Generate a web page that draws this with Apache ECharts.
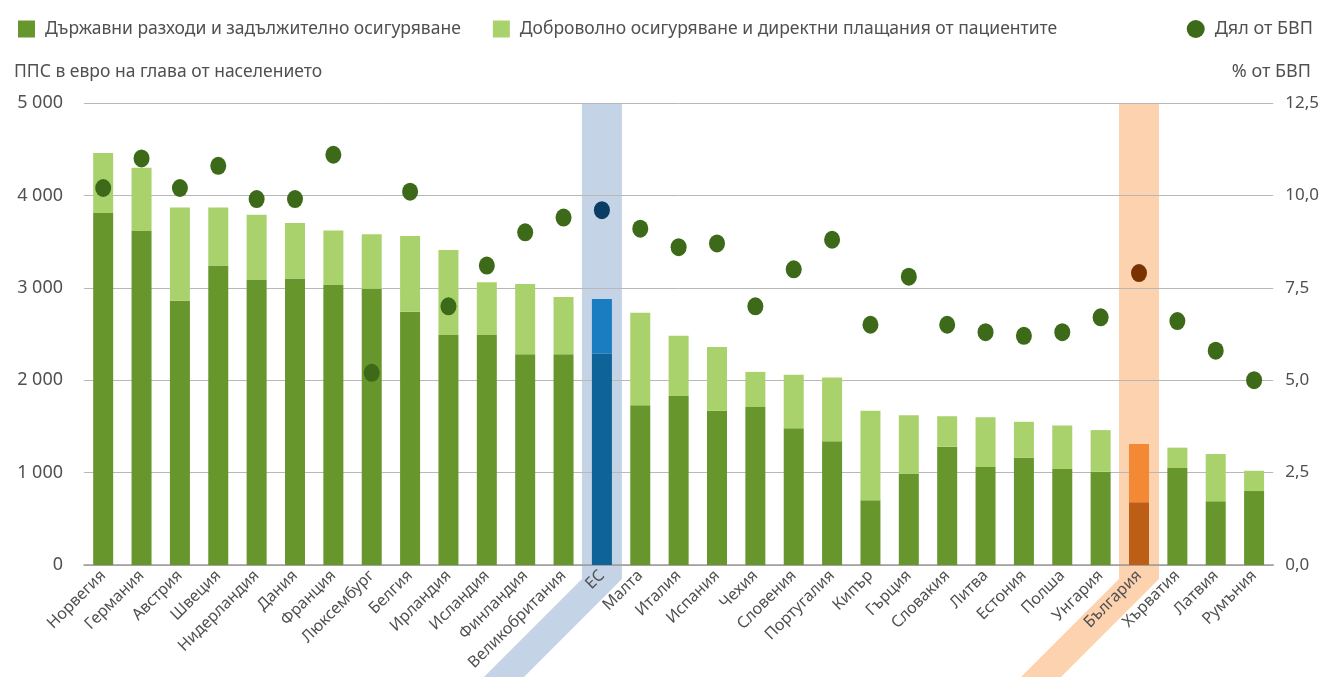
<!DOCTYPE html>
<html>
<head>
<meta charset="utf-8">
<script src="https://cdn.jsdelivr.net/npm/echarts@6/dist/echarts.min.js"></script>
<style>
  html, body { margin: 0; padding: 0; background: #fff; }
  #chart { width: 1322px; height: 677px; }
</style>
</head>
<body>
<div id="chart"></div>
<script>
// categories and values
const countries = ['Норвегия', 'Германия', 'Австрия', 'Швеция', 'Нидерландия', 'Дания', 'Франция',
  'Люксембург', 'Белгия', 'Ирландия', 'Исландия', 'Финландия', 'Великобритания', 'ЕС', 'Малта',
  'Италия', 'Испания', 'Чехия', 'Словения', 'Португалия', 'Кипър', 'Гърция', 'Словакия', 'Литва',
  'Естония', 'Полша', 'Унгария', 'България', 'Хърватия', 'Латвия', 'Румъния'];

// ППС в евро на глава от населението
const publicSpend = [3810, 3620, 2860, 3240, 3090, 3100, 3030, 2990, 2740, 2490, 2490, 2280, 2280, 2290, 1730,
  1830, 1670, 1710, 1480, 1340, 700, 990, 1280, 1060, 1160, 1040, 1010, 680, 1050, 690, 800];
const voluntarySpend = [650, 680, 1010, 630, 700, 600, 590, 590, 820, 920, 570, 760, 620, 590, 1000,
  650, 690, 380, 580, 690, 970, 630, 330, 540, 390, 470, 450, 630, 220, 510, 220];

// % от БВП
const gdpShare = [10.2, 11.0, 10.2, 10.8, 9.9, 9.9, 11.1, 5.2, 10.1, 7.0, 8.1, 9.0, 9.4, 9.6, 9.1,
  8.6, 8.7, 7.0, 8.0, 8.8, 6.5, 7.8, 6.5, 6.3, 6.2, 6.3, 6.7, 7.9, 6.6, 5.8, 5.0];

const seriesNames = ['Държавни разходи и задължително осигуряване',
  'Доброволно осигуряване и директни плащания от пациентите', 'Дял от БВП'];

// highlighted columns
const highlights = {
  'ЕС': { dark: '#0e6399', light: '#1a7cc1', dot: '#0b3c64', band: '#c5d3e6' },
  'България': { dark: '#bd5e16', light: '#f48935', dot: '#7a3300', band: '#fcd2af' }
};

const FONT = 'Noto Sans';
const GREEN_DARK = '#67962c';
const GREEN_LIGHT = '#a9d26c';
const DOT = '#3c6a19';
const TEXT = '#505050';

const chart = echarts.init(document.getElementById('chart'));

const colored = (values, key) => values.map((v, i) => {
  const h = highlights[countries[i]];
  return h ? { value: v, itemStyle: { color: h[key] } } : v;
});

const option = {
  animation: false,
  textStyle: { fontFamily: FONT },
  title: [
    {
      text: 'ППС в евро на глава от населението',
      left: 9, top: 58,
      textStyle: { fontSize: 17.5, fontWeight: 'normal', color: TEXT, fontFamily: FONT }
    },
    {
      text: '% от БВП',
      right: 6, top: 58,
      textStyle: { fontSize: 18, fontWeight: 'normal', color: TEXT, fontFamily: FONT }
    }
  ],
  legend: [
    {
      data: [seriesNames[0], seriesNames[1]],
      left: 13, top: 15,
      icon: 'rect',
      itemWidth: 17, itemHeight: 17, itemGap: 32,
      textStyle: { fontSize: 17.5, color: TEXT, padding: [0, 0, 0, 5] }
    },
    {
      data: [seriesNames[2]],
      right: 4, top: 15,
      icon: 'circle',
      itemWidth: 18, itemHeight: 18,
      textStyle: { fontSize: 18, color: TEXT, padding: [0, 0, 0, 5] }
    }
  ],
  grid: { left: 84, right: 45, top: 103, bottom: 112, containLabel: false },
  xAxis: {
    type: 'category',
    data: countries,
    axisLine: { lineStyle: { color: '#9a9a9a', width: 1.5 } },
    axisTick: { show: false },
    axisLabel: { interval: 0, rotate: 45, fontSize: 16, color: TEXT, margin: 8 }
  },
  yAxis: [
    {
      type: 'value',
      min: 0, max: 5000, interval: 1000,
      axisLine: { show: false },
      axisTick: { show: false },
      splitLine: { lineStyle: { color: '#b8b8b8', width: 1 } },
      axisLabel: {
        fontSize: 18, color: TEXT, margin: 21,
        formatter: v => String(v).replace(/\B(?=(\d{3})+(?!\d))/g, ' ')
      }
    },
    {
      type: 'value',
      min: 0, max: 12.5, interval: 2.5,
      axisLine: { show: false },
      axisTick: { show: false },
      splitLine: { show: false },
      axisLabel: {
        fontSize: 17, color: TEXT, margin: 12,
        formatter: v => v.toFixed(1).replace('.', ',')
      }
    }
  ],
  series: [
    {
      name: seriesNames[0],
      type: 'bar',
      stack: 'total',
      barWidth: 20,
      itemStyle: { color: GREEN_DARK },
      data: colored(publicSpend, 'dark'),
      z: 2
    },
    {
      name: seriesNames[1],
      type: 'bar',
      stack: 'total',
      barWidth: 20,
      itemStyle: { color: GREEN_LIGHT },
      data: colored(voluntarySpend, 'light'),
      z: 2
    },
    {
      name: seriesNames[2],
      type: 'scatter',
      yAxisIndex: 1,
      symbol: 'circle',
      symbolSize: [16, 18],
      itemStyle: { color: DOT, opacity: 1 },
      data: colored(gdpShare, 'dot'),
      z: 3
    }
  ]
};

chart.setOption(option);

// highlight bands: a column behind the bar that bends along the rotated label
const plotTop = chart.convertToPixel({ yAxisIndex: 0 }, 5000);
const plotBase = chart.convertToPixel({ yAxisIndex: 0 }, 0);
const H = chart.getHeight();
const half = 20;
const bands = Object.keys(highlights).map(name => {
  const cx = chart.convertToPixel({ xAxisIndex: 0 }, name);
  const bend = plotBase + 14;
  return {
    type: 'polygon',
    z: -10,
    silent: true,
    shape: {
      points: [
        [cx - half, plotTop], [cx + half, plotTop], [cx + half, bend],
        [cx + half - (H - bend), H], [cx - half - (H - bend), H], [cx - half, bend]
      ]
    },
    style: { fill: highlights[name].band }
  };
});
chart.setOption({ graphic: bands });

window.addEventListener('resize', () => chart.resize());
</script>
</body>
</html>
